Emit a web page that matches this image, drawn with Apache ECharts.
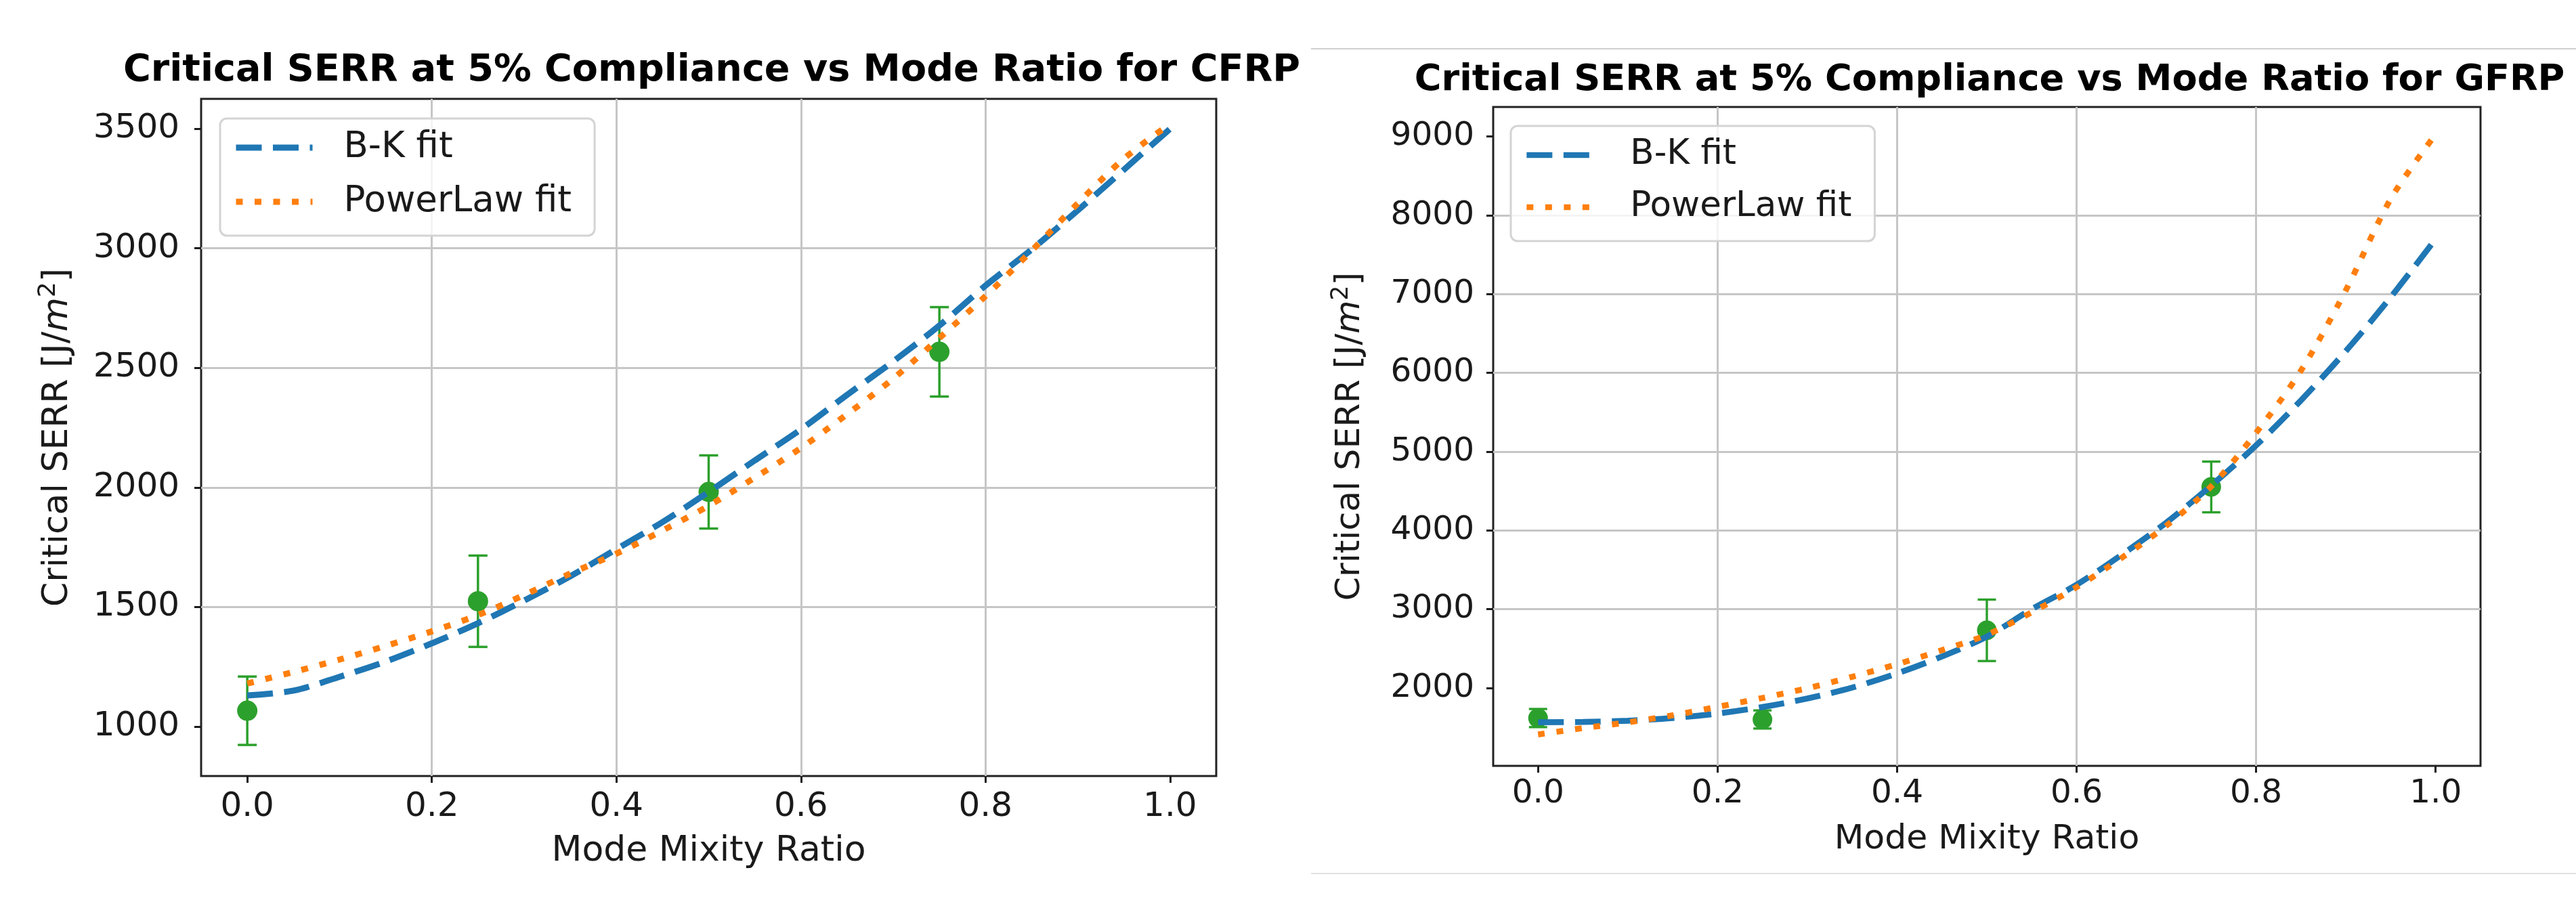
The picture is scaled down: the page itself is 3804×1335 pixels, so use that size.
<!DOCTYPE html>
<html>
<head>
<meta charset="utf-8">
<script src="https://cdn.jsdelivr.net/npm/echarts@6/dist/echarts.min.js"></script>
<style>
html,body{margin:0;padding:0;background:#ffffff;}
#c{width:3804px;height:1335px;}
</style>
</head>
<body>
<div id="c"></div>
<script>
// ---------------- data ----------------
const fitX = [0, 0.05, 0.1, 0.15, 0.2, 0.25, 0.3, 0.35, 0.4, 0.45, 0.5, 0.55, 0.6, 0.65, 0.7, 0.75, 0.8, 0.85, 0.9, 0.95, 1.0];
const cfrpBK = [1130, 1150, 1208, 1272, 1348, 1432, 1527, 1628, 1742, 1855, 1981, 2113, 2243, 2387, 2527, 2677, 2844, 2995, 3159, 3329, 3500];
const cfrpPL = [1180, 1228, 1280, 1337, 1398, 1466, 1550, 1640, 1723, 1820, 1923, 2041, 2165, 2306, 2455, 2625, 2800, 2990, 3188, 3375, 3520];
const gfrpBK = [1565, 1568, 1584, 1618, 1675, 1758, 1866, 2005, 2185, 2400, 2652, 3000, 3310, 3690, 4100, 4570, 5080, 5652, 6278, 6962, 7700];
const gfrpPL = [1410, 1490, 1563, 1653, 1760, 1873, 1996, 2142, 2302, 2480, 2675, 2960, 3280, 3650, 4060, 4560, 5240, 6030, 7050, 8210, 9030];

const pointX = [0, 0.25, 0.5, 0.75];
const cfrpMean = [1066, 1524, 1981, 2567];
const cfrpErr = [143, 191, 153, 187];
const gfrpMean = [1618, 1600, 2732, 4552];
const gfrpErr = [115, 115, 390, 322];

const xTicks = [0, 0.2, 0.4, 0.6, 0.8, 1.0];
const yTicksCFRP = [1000, 1500, 2000, 2500, 3000, 3500];
const yTicksGFRP = [2000, 3000, 4000, 5000, 6000, 7000, 8000, 9000];

const titleCFRP = 'Critical SERR at 5% Compliance vs Mode Ratio for CFRP';
const titleGFRP = 'Critical SERR at 5% Compliance vs Mode Ratio for GFRP';
const xName = 'Mode Mixity Ratio';
const yName = 'Critical SERR [J/{i|m}{s|2}]';
const nameBK = 'B-K fit';
const namePL = 'PowerLaw fit';

// ---------------- style ----------------
const BLUE = '#1f77b4', ORANGE = '#ff7f0e', GREEN = '#2ca02c';
const FONT = 'DejaVu Sans';
const GRIDC = '#c6c6c6';
const INK = '#1a1a1a';
const DASH_BK = [38, 16.5];
const DASH_PL = [10, 17.5];

const pairs = (xs, ys) => xs.map((x, i) => [x, ys[i]]);

function xAxisCfg(gi, fs, margin, nameFs, nameGap) {
  return {
    type: 'value', gridIndex: gi, min: -0.05, max: 1.05, splitNumber: 5, position: 'bottom',
    axisLine: {show: false, onZero: false},
    axisTick: {show: true, customValues: xTicks, length: 10, lineStyle: {color: INK, width: 3}},
    axisLabel: {customValues: xTicks, formatter: v => v.toFixed(1), fontSize: fs, color: INK, fontFamily: FONT, margin: margin},
    splitLine: {show: true, showMinLine: false, showMaxLine: false, lineStyle: {color: GRIDC, width: 3}},
    name: xName, nameLocation: 'middle', nameGap: nameGap,
    nameTextStyle: {fontSize: nameFs, color: INK, fontFamily: FONT}
  };
}
function yAxisCfg(gi, min, max, split, ticks, fs, margin, nameFs, nameGap) {
  return {
    type: 'value', gridIndex: gi, min: min, max: max, splitNumber: split, position: 'left',
    axisLine: {show: false, onZero: false},
    axisTick: {show: true, customValues: ticks, length: 10, lineStyle: {color: INK, width: 3}},
    axisLabel: {customValues: ticks, formatter: v => String(v), fontSize: fs, color: INK, fontFamily: FONT, margin: margin},
    splitLine: {show: true, showMinLine: false, showMaxLine: false, lineStyle: {color: GRIDC, width: 3}},
    name: yName, nameLocation: 'middle', nameGap: nameGap,
    nameTextStyle: {
      fontSize: nameFs, color: INK, fontFamily: FONT, lineHeight: 62,
      rich: {
        i: {fontSize: nameFs, fontStyle: 'italic', fontFamily: FONT, color: INK, lineHeight: 62},
        s: {fontSize: Math.round(nameFs * 0.7), fontFamily: FONT, color: INK, lineHeight: 26, verticalAlign: 'top'}
      }
    }
  };
}
function errSeries(gi, mean, err, capHalf, lw) {
  return {
    type: 'custom', name: 'err' + gi, xAxisIndex: gi, yAxisIndex: gi, z: 3, silent: true,
    data: pointX.map((x, i) => [x, mean[i] - err[i], mean[i] + err[i]]),
    encode: {x: 0, y: [1, 2]},
    renderItem: function (params, api) {
      const lo = api.coord([api.value(0), api.value(1)]);
      const hi = api.coord([api.value(0), api.value(2)]);
      const st = {stroke: GREEN, lineWidth: lw};
      return {type: 'group', children: [
        {type: 'line', shape: {x1: lo[0], y1: lo[1], x2: hi[0], y2: hi[1]}, style: st},
        {type: 'line', shape: {x1: lo[0] - capHalf, y1: lo[1], x2: lo[0] + capHalf, y2: lo[1]}, style: st},
        {type: 'line', shape: {x1: hi[0] - capHalf, y1: hi[1], x2: hi[0] + capHalf, y2: hi[1]}, style: st}
      ]};
    }
  };
}
function pointSeries(gi, mean, size) {
  return {
    type: 'scatter', name: 'pts' + gi, xAxisIndex: gi, yAxisIndex: gi, z: 4, silent: true,
    data: pairs(pointX, mean), symbol: 'circle', symbolSize: size,
    itemStyle: {color: GREEN, opacity: 1}
  };
}
function fitSeries(gi, name, ys, color, dash, width) {
  return {
    type: 'line', name: name, xAxisIndex: gi, yAxisIndex: gi, z: 5, silent: true,
    data: pairs(fitX, ys), smooth: 0.3, showSymbol: false, symbol: 'none',
    lineStyle: {color: color, width: width, type: dash, cap: 'butt'},
    itemStyle: {color: color}
  };
}
function legendCfg(left, top, pad, itemW, itemGap, textPadL, fs, lh, lw) {
  return {
    orient: 'vertical', left: left, top: top, padding: pad,
    itemWidth: itemW, itemHeight: 20, itemGap: itemGap, selectedMode: false,
    data: [
      {name: nameBK, itemStyle: {opacity: 0, color: 'rgba(0,0,0,0)', borderWidth: 0},
       lineStyle: {color: BLUE, width: lw, type: DASH_BK, cap: 'butt', opacity: 1}},
      {name: namePL, itemStyle: {opacity: 0, color: 'rgba(0,0,0,0)', borderWidth: 0},
       lineStyle: {color: ORANGE, width: lw, type: DASH_PL, cap: 'butt', opacity: 1}}
    ],
    backgroundColor: 'rgba(255,255,255,0.8)', borderColor: '#d4d4d4', borderWidth: 3, borderRadius: 10,
    textStyle: {fontSize: fs, color: INK, fontFamily: FONT, lineHeight: lh, padding: [0, 0, 0, textPadL]}
  };
}

const chart = echarts.init(document.getElementById('c'), null, {renderer: 'canvas'});
chart.setOption({
  backgroundColor: '#ffffff',
  animation: false,
  title: [
    {text: titleCFRP, left: 1046, top: 72, textAlign: 'center',
     textStyle: {fontSize: 55.6, fontWeight: 'bold', fontFamily: FONT, color: '#000'}},
    {text: titleGFRP, left: 2933, top: 87, textAlign: 'center',
     textStyle: {fontSize: 54.2, fontWeight: 'bold', fontFamily: FONT, color: '#000'}}
  ],
  legend: [
    legendCfg(325, 175, [13, 34, 20, 19], 113, 20, 41, 53, 60, 9),
    legendCfg(2231, 186, [14, 34, 21, 19], 109, 19, 39, 51.5, 58, 8.7)
  ],
  grid: [
    {left: 297, top: 146, width: 1499, height: 1000, show: true, borderColor: '#222', borderWidth: 3, backgroundColor: '#fff'},
    {left: 2205, top: 158, width: 1458, height: 973, show: true, borderColor: '#222', borderWidth: 3, backgroundColor: '#fff'}
  ],
  xAxis: [
    xAxisCfg(0, 50, 21, 52, 85),
    xAxisCfg(1, 48.5, 17, 50.5, 83)
  ],
  yAxis: [
    yAxisCfg(0, 793, 3625, 6, yTicksCFRP, 50, 32, 52, 181),
    yAxisCfg(1, 1011, 9376, 8, yTicksGFRP, 48.5, 28, 50.5, 180)
  ],
  graphic: [
    {type: 'line', shape: {x1: 1936, y1: 72, x2: 3804, y2: 72}, style: {stroke: '#cfcfcf', lineWidth: 2}, silent: true},
    {type: 'line', shape: {x1: 1936, y1: 1290, x2: 3804, y2: 1290}, style: {stroke: '#e2e2e2', lineWidth: 2}, silent: true}
  ],
  series: [
    errSeries(0, cfrpMean, cfrpErr, 14, 3.5),
    pointSeries(0, cfrpMean, 30),
    fitSeries(0, nameBK, cfrpBK, BLUE, DASH_BK, 9),
    fitSeries(0, namePL, cfrpPL, ORANGE, DASH_PL, 9),
    errSeries(1, gfrpMean, gfrpErr, 13.5, 3.4),
    pointSeries(1, gfrpMean, 29),
    fitSeries(1, nameBK, gfrpBK, BLUE, DASH_BK, 8.7),
    fitSeries(1, namePL, gfrpPL, ORANGE, DASH_PL, 8.7)
  ]
});
</script>
</body>
</html>
